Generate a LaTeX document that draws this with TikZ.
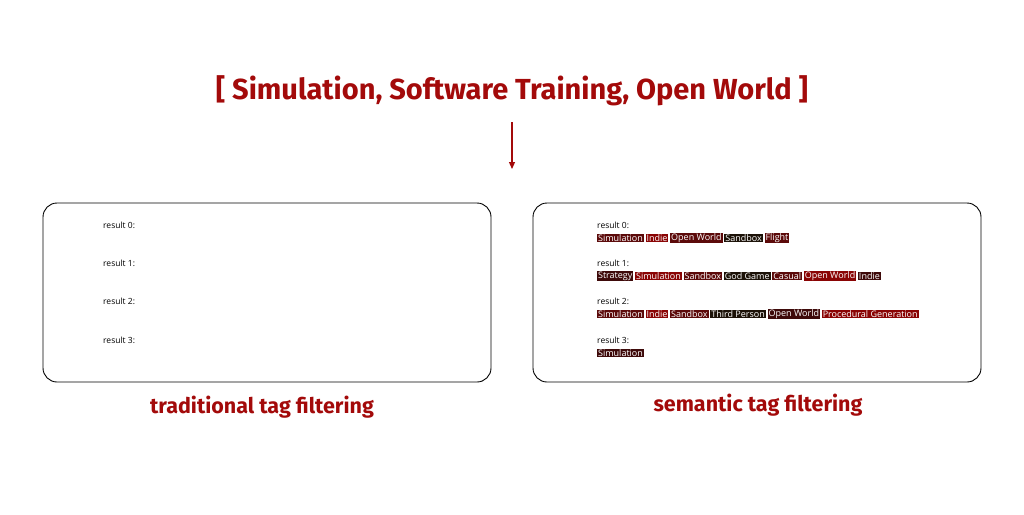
\documentclass[tikz,border=0pt]{standalone}
\usepackage{fontspec}
\setmainfont{Open Sans}
\newfontfamily\titlefont{Fira Sans}
\usetikzlibrary{positioning,arrows.meta}
\definecolor{brand}{HTML}{A30A0A}
\definecolor{tagA}{HTML}{8A0404}
\definecolor{tagB}{HTML}{5C0A0A}
\definecolor{tagC}{HTML}{3E0A0A}
\definecolor{tagD}{HTML}{1C1208}
\tikzset{
  panel/.style={draw, line width=0.9pt, rounded corners=14pt},
  res/.style={anchor=west, inner sep=0pt, font=\fontsize{8.5}{10}\selectfont},
  tag/.style={fill=#1, text=white, inner sep=0.9pt, anchor=west, font=\fontsize{9}{10}\selectfont},
  caption/.style={text=brand, font=\titlefont\bfseries\fontsize{21.5}{24}\selectfont}
}
\begin{document}
\begin{tikzpicture}[x=1pt,y=-1pt]
    \useasboundingbox[fill=white] (0,0) rectangle (1024,514);

    % query
    \node[text=brand, font=\titlefont\bfseries\fontsize{29}{32}\selectfont] (query) at (512,91) {[ Simulation, Software Training, Open World ]};
    \coordinate (arrtop) at (512,122);
    \coordinate (arrbot) at (512,169);
    \draw[-{Triangle[length=7pt,width=6pt]}, brand, line width=1.2pt] (arrtop) -- (arrbot);

    % panels
    \draw[panel] (43,203) rectangle (491,382);
    \draw[panel] (533,203) rectangle (981,382);
    \node[caption] (captrad) at (262,407) {traditional tag filtering};
    \node[caption] (capsem) at (758,405) {semantic tag filtering};

    % traditional
    \node[res] (t0) at (103,225) {result 0:};
    \node[res] (t1) at (103,263) {result 1:};
    \node[res] (t2) at (103,301) {result 2:};
    \node[res] (t3) at (103,340) {result 3:};

    % semantic
    \node[res] (s0) at (597,225) {result 0:};
    \node[tag=tagB] (a1) at (597,238) {Simulation};
    \node[tag=tagA, right=1.5pt of a1] (a2) {Indie};
    \node[tag=tagB, right=1.5pt of a2] (a3) {Open World};
    \node[tag=tagD, right=1.5pt of a3] (a4) {Sandbox};
    \node[tag=tagB, right=1.5pt of a4] (a5) {Flight};

    \node[res] (s1) at (597,263) {result 1:};
    \node[tag=tagC] (b1) at (597,276) {Strategy};
    \node[tag=tagA, right=1.5pt of b1] (b2) {Simulation};
    \node[tag=tagB, right=1.5pt of b2] (b3) {Sandbox};
    \node[tag=tagD, right=1.5pt of b3] (b4) {God Game};
    \node[tag=tagB, right=1.5pt of b4] (b5) {Casual};
    \node[tag=tagA, right=1.5pt of b5] (b6) {Open World};
    \node[tag=tagC, right=1.5pt of b6] (b7) {Indie};

    \node[res] (s2) at (597,301) {result 2:};
    \node[tag=tagB] (c1) at (597,314) {Simulation};
    \node[tag=tagA, right=1.5pt of c1] (c2) {Indie};
    \node[tag=tagB, right=1.5pt of c2] (c3) {Sandbox};
    \node[tag=tagD, right=1.5pt of c3] (c4) {Third Person};
    \node[tag=tagC, right=1.5pt of c4] (c5) {Open World};
    \node[tag=tagA, right=1.5pt of c5] (c6) {Procedural Generation};

    \node[res] (s3) at (597,340) {result 3:};
    \node[tag=tagC] (d1) at (597,353) {Simulation};
\end{tikzpicture}
\end{document}
